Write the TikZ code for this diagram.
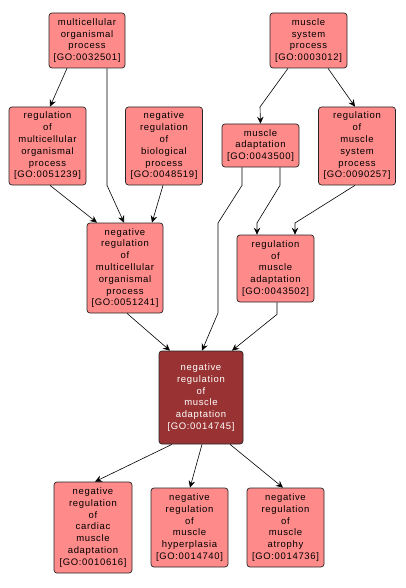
\documentclass[tikz,border=0pt]{standalone}
\usepackage{fontspec}
\newfontfamily\gofont{Liberation Sans}[LetterSpace=7]
\usetikzlibrary{arrows.meta}
\definecolor{golight}{RGB}{255,138,138}
\definecolor{godark}{RGB}{153,51,51}

\begin{document}
\begin{tikzpicture}[x=1pt, y=-1pt, >={Stealth[length=7pt,width=6.5pt,inset=2.5pt]},
    term/.style={draw=black!85, fill=golight, rounded corners=3pt, line width=0.7pt,
        align=center, inner sep=1pt, minimum width=77pt,
        font=\gofont\fontsize{9.5}{11.8}\selectfont},
    focus/.style={term, fill=godark, text=white, minimum width=84pt},
    link/.style={->, line width=0.6pt}]
    \useasboundingbox (0,0) rectangle (406,588);

    % top level
    \node[term, minimum width=76pt, minimum height=55pt] (mop) at (87,40.5)
        {multicellular\\organismal\\process\\{}[GO:0032501]};
    \node[term, minimum height=55pt] (msp) at (308.5,40.5)
        {muscle\\system\\process\\{}[GO:0003012]};

    % second level
    \node[term, minimum height=78pt] (rmop) at (47.5,146)
        {regulation\\of\\multicellular\\organismal\\process\\{}[GO:0051239]};
    \node[term, minimum height=78pt] (nrbp) at (164,146)
        {negative\\regulation\\of\\biological\\process\\{}[GO:0048519]};
    \node[term, minimum height=43pt] (ma) at (260.5,145.5)
        {muscle\\adaptation\\{}[GO:0043500]};
    \node[term, minimum height=78pt] (rmsp) at (357,146)
        {regulation\\of\\muscle\\system\\process\\{}[GO:0090257]};

    % third level
    \node[term, minimum width=76pt, minimum height=90pt] (nrmop) at (125,268)
        {negative\\regulation\\of\\multicellular\\organismal\\process\\{}[GO:0051241]};
    \node[term, minimum height=67pt] (rma) at (275.5,268.5)
        {regulation\\of\\muscle\\adaptation\\{}[GO:0043502]};

    % the term itself
    \node[focus, minimum height=93pt] (nrma) at (201,397.5)
        {negative\\regulation\\of\\muscle\\adaptation\\{}[GO:0014745]};

    % children
    \node[term, minimum width=78pt, minimum height=91pt] (nrcma) at (93,527.5)
        {negative\\regulation\\of\\cardiac\\muscle\\adaptation\\{}[GO:0010616]};
    \node[term, minimum height=79pt] (nrmh) at (189.5,527.5)
        {negative\\regulation\\of\\muscle\\hyperplasia\\{}[GO:0014740]};
    \node[term, minimum height=79pt] (nrmat) at (285.5,527.5)
        {negative\\regulation\\of\\muscle\\atrophy\\{}[GO:0014736]};

    % is_a links
    \draw[link] ([xshift=-20pt]mop.south) -- ([xshift=2.5pt]rmop.north);
    \draw[link] ([xshift=20pt]mop.south) -- ++(0,117) -- ([xshift=-1pt]nrmop.north);
    \draw[link] ([xshift=2.5pt]rmop.south) -- ([xshift=-28pt]nrmop.north);
    \draw[link] ([xshift=-1pt]nrbp.south) -- ([xshift=27pt]nrmop.north);
    \draw[link] ([xshift=-20.5pt]msp.south) -- (260,107) -- (ma.north);
    \draw[link] ([xshift=19.5pt]msp.south) -- ([xshift=-2pt]rmsp.north);
    \draw[link] ([xshift=-18.5pt]ma.south) -- ++(0,18) -- (218,223) -- (218,313)
        -- ([xshift=1pt]nrma.north);
    \draw[link] ([xshift=19.5pt]ma.south) -- ++(0,18) -- (257,223)
        -- ([xshift=-18.5pt]rma.north);
    \draw[link] ([xshift=-2pt]rmsp.south) -- (295,223) -- ([xshift=19.5pt]rma.north);
    \draw[link] ([xshift=2pt]nrmop.south) -- ([xshift=-31pt]nrma.north);
    \draw[link] ([xshift=1.5pt]rma.south) -- ++(0,12) -- ([xshift=31pt]nrma.north);
    \draw[link] ([xshift=-29pt]nrma.south) -- ([xshift=2pt]nrcma.north);
    \draw[link] ([xshift=1pt]nrma.south) -- ([xshift=0.5pt]nrmh.north);
    \draw[link] ([xshift=29pt]nrma.south) -- ([xshift=-2.5pt]nrmat.north);
\end{tikzpicture}
\end{document}
